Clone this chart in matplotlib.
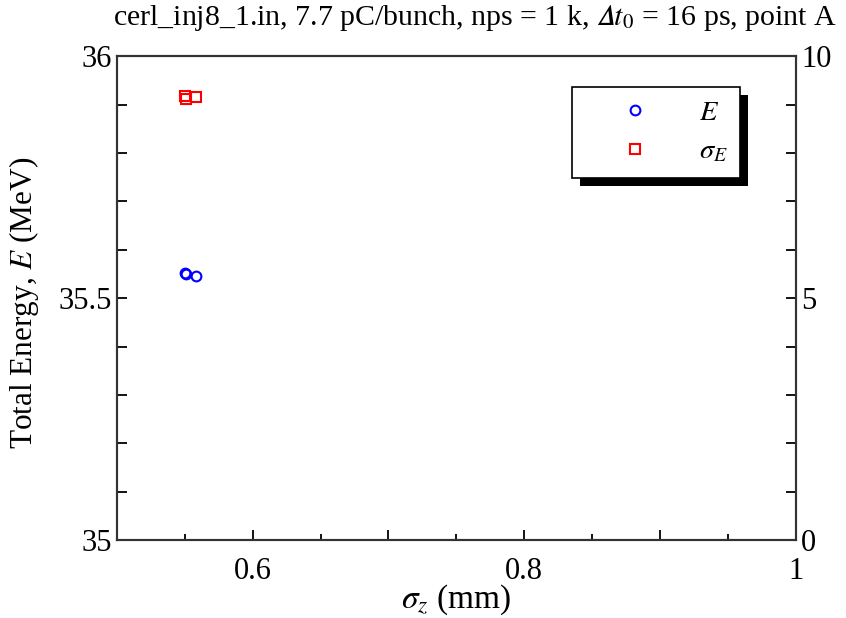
import matplotlib
matplotlib.use('Agg')
import matplotlib.pyplot as plt
from matplotlib.ticker import MultipleLocator, FuncFormatter
from matplotlib.patches import Rectangle

plt.rcParams['font.family'] = ['Liberation Serif', 'DejaVu Serif']
plt.rcParams['mathtext.fontset'] = 'stix'

# data
sigma_z = [0.550, 0.551, 0.558]
energy = [35.552, 35.550, 35.546]
sigma_e = [9.18, 9.12, 9.16]

title = 'cerl_inj8_1.in, 7.7 pC/bunch, nps = 1 k, $\U0001D6E5t_0$ = 16 ps, point A'

fig = plt.figure(figsize=(8.46, 6.18), dpi=100)
ax = fig.add_axes([0.138, 0.126, 0.803, 0.783])
ax2 = ax.twinx()

ax.plot(sigma_z, energy, 'o', ms=7, mfc='none', mec='blue', mew=1.5, label=r'$E$')
ax2.plot(sigma_z, sigma_e, 's', ms=7, mfc='none', mec='red', mew=1.5, label=r'$\sigma_E$')

ax.set_xlim(0.5, 1.0)
ax.set_ylim(35, 36)
ax2.set_ylim(0, 10)

ax.xaxis.set_major_locator(MultipleLocator(0.1))
ax.xaxis.set_minor_locator(MultipleLocator(0.05))
ax.xaxis.set_major_formatter(FuncFormatter(
    lambda v, p: ('%g' % round(v, 1)) if round(v * 10) % 2 == 0 and v > 0.55 else ''))
ax.yaxis.set_major_locator(MultipleLocator(0.5))
ax.yaxis.set_minor_locator(MultipleLocator(0.1))
ax.yaxis.set_major_formatter(FuncFormatter(lambda v, p: '%g' % v))
ax2.yaxis.set_major_locator(MultipleLocator(5))
ax2.yaxis.set_minor_locator(MultipleLocator(1))

for a in (ax, ax2):
    for s in a.spines.values():
        s.set_linewidth(1.5)
        s.set_color('#333333')
ax.tick_params(axis='x', which='major', direction='in', length=7, width=1.3, labelsize=22, pad=12)
ax.tick_params(axis='x', which='minor', direction='in', length=4, width=1.3)
ax.tick_params(axis='y', which='both', direction='in', length=7, width=1.3, labelsize=22, right=False)
ax2.tick_params(axis='y', which='both', direction='in', length=7, width=1.3, labelsize=22)

ax.set_xlabel(r'$\sigma_z$ (mm)', fontsize=24)
ax.xaxis.set_label_coords(0.5, -0.088)
ax.set_ylabel(r'Total Energy, $E$ (MeV)', fontsize=22.5)
ax.yaxis.set_label_coords(-0.111, 0.49)
fig.text(475 / 846, 0.995, title, fontsize=21.5, ha='center', va='top')

h1, l1 = ax.get_legend_handles_labels()
h2, l2 = ax2.get_legend_handles_labels()
leg = ax2.legend(h1 + h2, l1 + l2, loc='upper left', bbox_to_anchor=(0.670, 0.936),
                 fontsize=20.5, frameon=True, fancybox=False, edgecolor='black',
                 framealpha=1, handlelength=3.5, handletextpad=0.5, borderpad=0.45,
                 labelspacing=0.45, numpoints=1, borderaxespad=0)
leg.get_frame().set_linewidth(1.2)

fig.canvas.draw()
bb = leg.get_window_extent()
shadow = Rectangle((bb.x0 + 8, bb.y0 - 8), bb.width, bb.height, transform=None,
                   facecolor='black', edgecolor='none', zorder=4.5, clip_on=False)
ax2.add_artist(shadow)

fig.savefig('out.png', dpi=100)
